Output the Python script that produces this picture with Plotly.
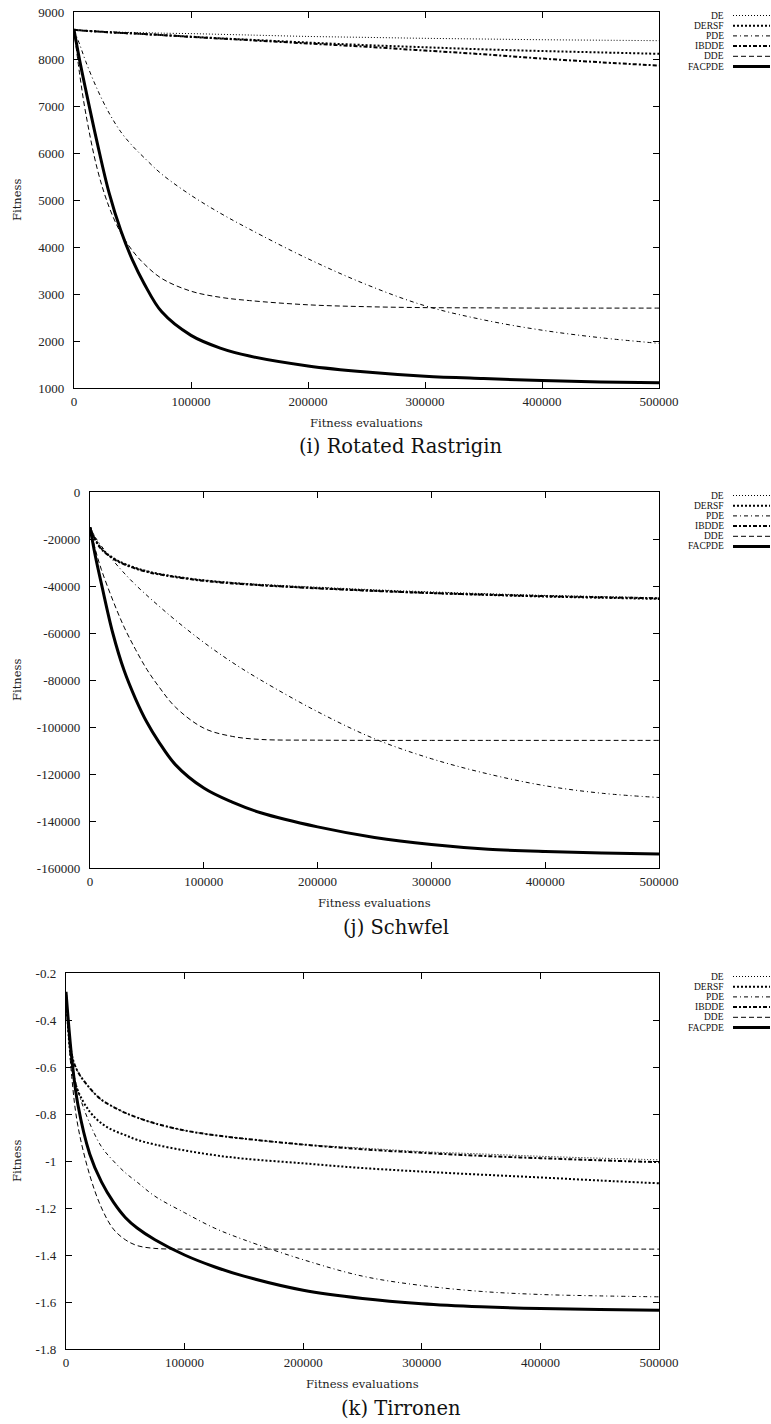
import plotly.graph_objects as go

W, H = 771, 1424
FONT = "'Liberation Serif', 'Times New Roman', 'DejaVu Serif', serif"
WIDE_FONT = "'DejaVu Serif', 'Liberation Serif', serif"

# Sampling points (fitness evaluations) shared by every series
evals = [0, 5000, 10000, 20000, 30000, 40000, 50000, 60000, 75000, 100000,
         125000, 150000, 200000, 250000, 300000, 350000, 400000, 450000, 500000]

algorithms = ["DE", "DERSF", "PDE", "IBDDE", "DDE", "FACPDE"]

# Rotated Rastrigin
rastrigin_de = [8620, 8610, 8600, 8590, 8580, 8570, 8565, 8560, 8550, 8540,
                8525, 8510, 8480, 8460, 8440, 8425, 8410, 8400, 8390]
rastrigin_dersf = [8620, 8610, 8600, 8585, 8570, 8555, 8545, 8530, 8510, 8475,
                   8440, 8410, 8350, 8295, 8250, 8205, 8170, 8140, 8110]
rastrigin_pde = [8620, 8300, 7950, 7350, 6850, 6450, 6150, 5900, 5550, 5100,
                 4720, 4380, 3750, 3200, 2750, 2450, 2230, 2070, 1950]
rastrigin_ibdde = [8620, 8610, 8600, 8585, 8570, 8555, 8545, 8530, 8510, 8470,
                   8435, 8400, 8330, 8260, 8180, 8100, 8010, 7930, 7860]
rastrigin_dde = [8620, 7650, 6850, 5650, 4850, 4300, 3920, 3640, 3330, 3060,
                 2930, 2860, 2770, 2730, 2710, 2705, 2700, 2700, 2700]
rastrigin_facpde = [8620, 7950, 7350, 6200, 5150, 4350, 3720, 3220, 2620, 2120,
                    1850, 1680, 1470, 1340, 1250, 1200, 1160, 1130, 1110]

# Schwefel
schwefel_de = [-15000, -20500, -24000, -28000, -30500, -32300, -33700, -34800, -36000, -37500,
               -38500, -39300, -40500, -41600, -42500, -43300, -44000, -44500, -45000]
schwefel_dersf = [-15000, -20500, -24000, -28000, -30500, -32300, -33700, -34800, -36000, -37600,
                  -38700, -39600, -40900, -42000, -43000, -43800, -44500, -45000, -45500]
schwefel_pde = [-15000, -19500, -23000, -29000, -34500, -39500, -44000, -48300, -54500, -64000,
                -72500, -80000, -93500, -105000, -113500, -120000, -125000, -128200, -130000]
schwefel_ibdde = [-15000, -20700, -24300, -28300, -30800, -32600, -34000, -35000, -36200, -37800,
                  -38900, -39700, -41000, -42100, -43000, -43700, -44300, -44800, -45200]
schwefel_dde = [-15000, -25000, -33000, -46000, -57500, -67000, -75500, -82500, -91500, -100500,
                -104000, -105300, -105600, -105700, -105700, -105700, -105700, -105700, -105700]
schwefel_facpde = [-15000, -28000, -39000, -60000, -76000, -88000, -98000, -106000, -116000, -126000,
                   -132000, -136500, -142500, -147000, -150000, -152000, -153000, -153600, -154000]

# Tirronen
tirronen_de = [-0.29, -0.55, -0.62, -0.69, -0.74, -0.77, -0.795, -0.815, -0.84, -0.87,
               -0.89, -0.905, -0.93, -0.945, -0.96, -0.97, -0.98, -0.988, -0.995]
tirronen_dersf = [-0.29, -0.6, -0.7, -0.79, -0.84, -0.87, -0.89, -0.91, -0.93, -0.955,
                  -0.975, -0.99, -1.01, -1.03, -1.045, -1.058, -1.07, -1.083, -1.095]
tirronen_pde = [-0.29, -0.58, -0.7, -0.84, -0.94, -1.0, -1.05, -1.09, -1.15, -1.22,
                -1.285, -1.335, -1.42, -1.49, -1.53, -1.555, -1.568, -1.574, -1.578]
tirronen_ibdde = [-0.29, -0.55, -0.62, -0.69, -0.74, -0.77, -0.795, -0.815, -0.84, -0.87,
                  -0.89, -0.905, -0.93, -0.95, -0.965, -0.978, -0.988, -0.997, -1.005]
tirronen_dde = [-0.29, -0.65, -0.85, -1.06, -1.2, -1.29, -1.335, -1.36, -1.372, -1.375,
                -1.375, -1.375, -1.375, -1.375, -1.375, -1.375, -1.375, -1.375, -1.375]
tirronen_facpde = [-0.28, -0.57, -0.76, -0.97, -1.09, -1.175, -1.24, -1.285, -1.335, -1.4,
                   -1.45, -1.49, -1.55, -1.585, -1.607, -1.62, -1.628, -1.632, -1.635]

# Tick labels
x_tickvals = [0, 100000, 200000, 300000, 400000, 500000]
x_ticktext = ["0", "100000", "200000", "300000", "400000", "500000"]
rastrigin_ticks = [1000, 2000, 3000, 4000, 5000, 6000, 7000, 8000, 9000]
rastrigin_ticktext = ["1000", "2000", "3000", "4000", "5000", "6000", "7000", "8000", "9000"]
schwefel_ticks = [-160000, -140000, -120000, -100000, -80000, -60000, -40000, -20000, 0]
schwefel_ticktext = ["-160000", "-140000", "-120000", "-100000", "-80000", "-60000",
                     "-40000", "-20000", "0"]
tirronen_ticks = [-1.8, -1.6, -1.4, -1.2, -1.0, -0.8, -0.6, -0.4, -0.2]
tirronen_ticktext = ["-1.8", "-1.6", "-1.4", "-1.2", "-1", "-0.8", "-0.6", "-0.4", "-0.2"]

captions = ["(i) Rotated Rastrigin", "(j) Schwfel", "(k) Tirronen"]

styles = {
    "DE": dict(width=1, dash="1px,2px"),
    "DERSF": dict(width=2, dash="2px,2px"),
    "PDE": dict(width=1, dash="4px,3px,1px,3px"),
    "IBDDE": dict(width=2, dash="4px,2px,2px,2px"),
    "DDE": dict(width=1, dash="5px,3px"),
    "FACPDE": dict(width=3, dash="solid"),
}

panels = [
    dict(left=74, right=659, top=12, bottom=388, yrange=[1000, 9000],
         ytick=(rastrigin_ticks, rastrigin_ticktext), cap_x=400,
         series=[rastrigin_de, rastrigin_dersf, rastrigin_pde,
                 rastrigin_ibdde, rastrigin_dde, rastrigin_facpde]),
    dict(left=90, right=659, top=492, bottom=868, yrange=[-160000, 0],
         ytick=(schwefel_ticks, schwefel_ticktext), cap_x=396,
         series=[schwefel_de, schwefel_dersf, schwefel_pde,
                 schwefel_ibdde, schwefel_dde, schwefel_facpde]),
    dict(left=66, right=659, top=973, bottom=1349, yrange=[-1.8, -0.2],
         ytick=(tirronen_ticks, tirronen_ticktext), cap_x=401,
         series=[tirronen_de, tirronen_dersf, tirronen_pde,
                 tirronen_ibdde, tirronen_dde, tirronen_facpde]),
]


def px_x(px):
    return px / W


def px_y(py):
    return 1 - py / H


fig = go.Figure()
annotations = []
shapes = []

axis_common = dict(
    showline=True, linecolor="black", linewidth=1.4, mirror="ticks",
    ticks="inside", ticklen=6, tickwidth=1, tickcolor="black",
    showgrid=False, zeroline=False, automargin=False,
    tickfont=dict(family=FONT, size=13, color="#222"),
)

KEY_STEP = 10.2

for i, p in enumerate(panels, start=1):
    xa = "x" if i == 1 else f"x{i}"
    ya = "y" if i == 1 else f"y{i}"
    for name, vals in zip(algorithms, p["series"]):
        st = styles[name]
        fig.add_trace(go.Scatter(
            x=evals, y=vals, mode="lines", name=name, showlegend=False,
            line=dict(color="black", width=st["width"], dash=st["dash"],
                      shape="spline", smoothing=1.0),
            xaxis=xa, yaxis=ya,
        ))

    fig.layout[f"xaxis{'' if i == 1 else i}"] = dict(
        axis_common, domain=[px_x(p["left"]), px_x(p["right"])], anchor=ya,
        range=[0, 500000], tickvals=x_tickvals, ticktext=x_ticktext,
        ticklabelstandoff=1,
    )
    fig.layout[f"yaxis{'' if i == 1 else i}"] = dict(
        axis_common, domain=[px_y(p["bottom"]), px_y(p["top"])], anchor=xa,
        range=p["yrange"], tickvals=p["ytick"][0], ticktext=p["ytick"][1],
        ticklabelstandoff=6,
    )

    mid_y = (p["top"] + p["bottom"]) / 2
    mid_x = (p["left"] + p["right"]) / 2
    # y axis title
    annotations.append(dict(
        text="Fitness", x=px_x(17), y=px_y(mid_y), xref="paper", yref="paper",
        showarrow=False, textangle=-90,
        font=dict(family=WIDE_FONT, size=11.5, color="#222"),
        xanchor="center", yanchor="middle",
    ))
    # x axis title
    annotations.append(dict(
        text="Fitness evaluations", x=px_x(mid_x), y=px_y(p["bottom"] + 35),
        xref="paper", yref="paper", showarrow=False,
        font=dict(family=WIDE_FONT, size=11.5, color="#222"),
        xanchor="center", yanchor="middle",
    ))
    # caption
    annotations.append(dict(
        text=captions[i - 1], x=px_x(p["cap_x"]), y=px_y(p["bottom"] + 59),
        xref="paper", yref="paper", showarrow=False,
        font=dict(family=WIDE_FONT, size=19.5, color="#111"),
        xanchor="center", yanchor="middle",
    ))
    # key box to the right of the plot area
    for k, name in enumerate(algorithms):
        row_y = p["top"] + 3.5 + k * KEY_STEP
        st = styles[name]
        annotations.append(dict(
            text=name, x=px_x(725), y=px_y(row_y), xref="paper", yref="paper",
            showarrow=False, xanchor="right", yanchor="middle", borderpad=0,
            font=dict(family=FONT, size=9.5, color="#111"),
        ))
        shapes.append(dict(
            type="line", xref="paper", yref="paper",
            x0=px_x(733), x1=px_x(770), y0=px_y(row_y), y1=px_y(row_y),
            line=dict(color="black", width=st["width"], dash=st["dash"]),
        ))

fig.update_layout(
    width=W, height=H, autosize=False, margin=dict(l=0, r=0, t=0, b=0, pad=0),
    paper_bgcolor="white", plot_bgcolor="white",
    annotations=annotations, shapes=shapes, showlegend=False,
)

fig.write_html(
    "out.html",
    config={"responsive": False, "displayModeBar": False},
    post_script="document.body.style.margin='0';document.body.style.overflow='hidden';",
)
